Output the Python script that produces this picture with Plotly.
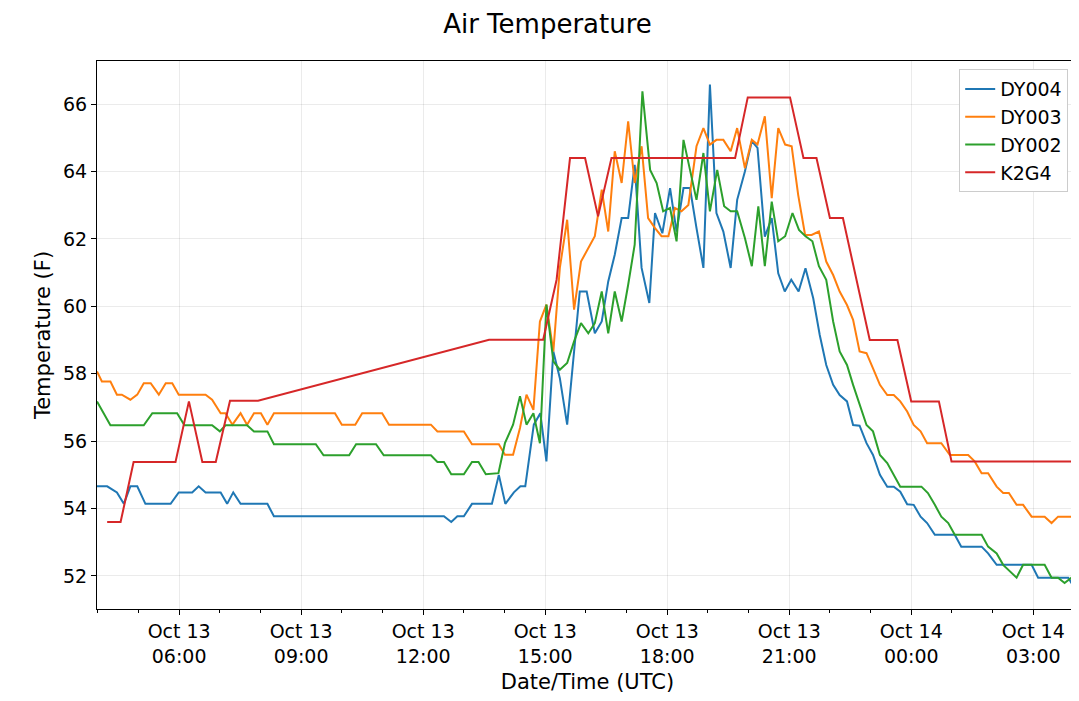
import pandas as pd
import plotly.graph_objects as go

# hours after Oct 13 00:00 UTC, temperature in F
dy004_h = [3.98, 4.23, 4.47, 4.64, 4.80, 4.97, 5.17, 5.79, 5.99, 6.32, 6.48, 6.65, 7.02, 7.18, 7.33, 7.51,
           8.17, 8.33, 12.51, 12.69, 12.84, 13.00, 13.20, 13.69, 13.86, 14.02, 14.23, 14.39, 14.51, 14.72,
           14.88, 15.03, 15.20, 15.36, 15.54, 15.85, 16.02, 16.22, 16.39, 16.55, 16.71, 16.88, 17.04, 17.20,
           17.37, 17.56, 17.70, 17.88, 18.07, 18.23, 18.40, 18.56, 18.72, 18.89, 19.05, 19.21, 19.38, 19.56,
           19.72, 19.91, 20.08, 20.22, 20.40, 20.57, 20.73, 20.89, 21.05, 21.23, 21.40, 21.59, 21.75, 21.91,
           22.08, 22.24, 22.42, 22.57, 22.73, 22.90, 23.06, 23.23, 23.41, 23.57, 23.73, 23.90, 24.06, 24.23,
           24.39, 24.58, 25.07, 25.23, 25.73, 25.89, 26.10, 26.96, 27.12, 27.86, 27.94, 28.10]
dy004_v = [54.66, 54.66, 54.48, 54.14, 54.66, 54.66, 54.14, 54.14, 54.48, 54.48, 54.66, 54.48, 54.48, 54.14, 54.48, 54.14,
           54.14, 53.77, 53.77, 53.60, 53.77, 53.77, 54.14, 54.14, 55.00, 54.14, 54.48, 54.66, 54.66, 56.49,
           56.83, 55.40, 58.66, 57.87, 56.49, 60.44, 60.44, 59.20, 59.55, 60.74, 61.53, 62.62, 62.62, 64.20,
           61.14, 60.10, 62.77, 62.17, 63.51, 62.22, 63.51, 63.51, 62.32, 61.14, 66.58, 62.77, 62.22, 61.14,
           63.16, 64.00, 64.90, 64.70, 62.07, 62.62, 60.98, 60.44, 60.79, 60.44, 61.13, 60.24, 59.15, 58.26,
           57.67, 57.37, 57.18, 56.48, 56.46, 55.94, 55.59, 55.00, 54.65, 54.65, 54.50, 54.13, 54.11, 53.76,
           53.57, 53.22, 53.22, 52.87, 52.87, 52.67, 52.33, 52.33, 51.95, 51.95, 51.79, 51.79]

dy003_h = [3.98, 4.10, 4.31, 4.47, 4.59, 4.80, 4.97, 5.13, 5.30, 5.50, 5.67, 5.83, 5.99, 6.65, 6.81, 7.02,
           7.14, 7.31, 7.51, 7.67, 7.84, 8.01, 8.17, 8.33, 9.83, 10.00, 10.33, 10.50, 10.99, 11.16,
           12.19, 12.35, 13.00, 13.20, 13.86, 14.01, 14.21, 14.38, 14.54, 14.71, 14.87, 15.03, 15.20, 15.36,
           15.54, 15.71, 15.88, 16.06, 16.22, 16.39, 16.55, 16.71, 16.88, 17.04, 17.20, 17.37, 17.53, 17.70,
           17.86, 18.03, 18.19, 18.35, 18.52, 18.72, 18.89, 19.05, 19.21, 19.38, 19.56, 19.72, 19.91, 20.08,
           20.22, 20.40, 20.57, 20.73, 20.90, 21.06, 21.22, 21.39, 21.55, 21.73, 21.91, 22.08, 22.24, 22.42,
           22.57, 22.73, 22.90, 23.06, 23.23, 23.41, 23.57, 23.73, 23.90, 24.06, 24.23, 24.39, 24.74, 24.95,
           25.40, 25.56, 25.73, 25.89, 26.10, 26.26, 26.40, 26.59, 26.75, 26.96, 27.28, 27.45, 27.61, 27.94, 28.10]
dy003_v = [58.07, 57.77, 57.77, 57.38, 57.38, 57.23, 57.38, 57.72, 57.72, 57.38, 57.72, 57.72, 57.38, 57.38, 57.23, 56.83,
           56.83, 56.49, 56.83, 56.49, 56.83, 56.83, 56.49, 56.83, 56.83, 56.49, 56.49, 56.83, 56.83, 56.49,
           56.49, 56.29, 56.29, 55.91, 55.91, 55.60, 55.60, 56.39, 57.38, 56.93, 59.55, 60.05, 58.66, 61.14,
           62.57, 59.90, 61.33, 61.73, 62.08, 63.46, 62.22, 64.60, 63.66, 65.49, 63.66, 64.75, 62.62, 62.32,
           62.08, 62.08, 62.92, 62.82, 63.01, 64.75, 65.29, 64.80, 64.94, 64.94, 64.60, 65.29, 64.10, 64.94,
           64.80, 65.64, 63.21, 65.29, 64.80, 64.75, 63.31, 62.12, 62.12, 62.22, 61.33, 60.93, 60.44, 60.04,
           59.60, 58.66, 58.61, 58.16, 57.67, 57.37, 57.37, 57.18, 56.88, 56.48, 56.29, 55.94, 55.94, 55.59,
           55.59, 55.40, 55.05, 55.05, 54.65, 54.46, 54.46, 54.11, 54.11, 53.76, 53.76, 53.57, 53.76, 53.76, 53.57]

dy002_h = [3.98, 4.31, 5.13, 5.34, 5.95, 6.13, 6.81, 7.00, 7.14, 7.67, 7.84, 8.17, 8.33, 9.36, 9.55, 10.18,
           10.35, 10.84, 11.03, 12.19, 12.35, 12.51, 12.69, 13.00, 13.20, 13.36, 13.54, 13.85, 14.01, 14.21,
           14.38, 14.54, 14.71, 14.87, 15.03, 15.20, 15.36, 15.54, 15.71, 15.88, 16.06, 16.22, 16.39, 16.55,
           16.71, 16.88, 17.04, 17.20, 17.39, 17.58, 17.74, 17.90, 18.07, 18.23, 18.40, 18.56, 18.72, 18.89,
           19.05, 19.23, 19.40, 19.56, 19.72, 19.91, 20.08, 20.24, 20.40, 20.57, 20.73, 20.90, 21.08, 21.24,
           21.40, 21.57, 21.73, 21.91, 22.08, 22.24, 22.42, 22.57, 22.73, 22.90, 23.06, 23.23, 23.41, 23.57,
           23.73, 24.25, 24.41, 24.58, 24.74, 24.91, 25.07, 25.73, 25.89, 26.10, 26.26, 26.59, 26.75, 27.28,
           27.45, 27.61, 27.77, 27.94, 28.10]
dy002_v = [57.18, 56.47, 56.47, 56.83, 56.83, 56.47, 56.47, 56.29, 56.47, 56.47, 56.29, 56.29, 55.91, 55.91, 55.58, 55.58,
           55.91, 55.91, 55.58, 55.58, 55.38, 55.38, 55.02, 55.02, 55.38, 55.38, 55.02, 55.05, 55.94, 56.49,
           57.33, 56.49, 56.83, 55.94, 60.05, 58.37, 58.12, 58.32, 58.96, 59.50, 59.20, 59.50, 60.44, 59.20,
           60.44, 59.55, 60.64, 61.83, 66.38, 64.05, 63.66, 62.82, 62.92, 61.93, 64.94, 64.10, 63.16, 64.55,
           62.82, 64.05, 62.97, 62.82, 62.82, 62.03, 61.19, 62.97, 61.19, 63.11, 61.93, 62.08, 62.77, 62.27,
           62.08, 61.93, 61.19, 60.79, 59.55, 58.66, 58.26, 57.67, 57.08, 56.48, 56.29, 55.59, 55.35, 55.00,
           54.65, 54.65, 54.46, 54.11, 53.76, 53.57, 53.22, 53.22, 52.87, 52.67, 52.33, 51.95, 52.33, 52.33,
           51.95, 51.95, 51.79, 51.95, 51.95]

k2g4_h = [4.23, 4.56, 4.88, 5.91, 6.24, 6.57, 6.90, 7.25, 7.94, 13.62, 14.95, 15.28, 15.61, 15.98, 16.30,
          16.63, 19.67, 19.98, 21.02, 21.35, 21.67, 22.00, 22.32, 22.98, 23.66, 24.00, 24.68, 24.99, 28.02]
k2g4_v = [53.60, 53.60, 55.38, 55.38, 57.18, 55.38, 55.38, 57.20, 57.20, 59.01, 59.01, 60.79, 64.40, 64.40, 62.67,
          64.40, 64.40, 66.20, 66.20, 64.40, 64.40, 62.62, 62.62, 59.00, 59.00, 57.18, 57.18, 55.40, 55.40]

tick_hours = [6, 9, 12, 15, 18, 21, 24, 27]
tick_text = ["Oct 13<br>06:00", "Oct 13<br>09:00", "Oct 13<br>12:00", "Oct 13<br>15:00",
             "Oct 13<br>18:00", "Oct 13<br>21:00", "Oct 14<br>00:00", "Oct 14<br>03:00"]

base = pd.Timestamp("2019-10-13")
def to_time(hours):
    return [base + pd.Timedelta(hours=h) for h in hours]

series = [("DY004", dy004_h, dy004_v, "#1f77b4"),
          ("DY003", dy003_h, dy003_v, "#ff7f0e"),
          ("DY002", dy002_h, dy002_v, "#2ca02c"),
          ("K2G4", k2g4_h, k2g4_v, "#d62728")]

fig = go.Figure()
for name, hrs, vals, color in series:
    fig.add_trace(go.Scatter(x=to_time(hrs), y=vals, mode="lines", name=name,
                             line=dict(color=color, width=2)))

axis_style = dict(showline=True, linecolor="black", linewidth=1, mirror=True, automargin=False,
                  gridcolor="rgba(0,0,0,0.08)", ticks="outside", tickcolor="black",
                  zeroline=False, tickfont=dict(size=19, color="black"))

fig.update_layout(
    width=1079, height=701,
    margin=dict(l=89, r=9, t=53, b=100),
    paper_bgcolor="white", plot_bgcolor="white",
    font=dict(family="DejaVu Sans", color="black"),
    title=dict(text="Air Temperature", x=0.5, xanchor="center", y=0.99, yanchor="top",
               font=dict(size=26)),
    legend=dict(x=0.99, y=0.985, xanchor="right", yanchor="top", bgcolor="white",
                bordercolor="#cccccc", borderwidth=1, font=dict(size=19)),
    xaxis=dict(axis_style, range=to_time([3.98, 28.1]), tickvals=to_time(tick_hours),
               ticktext=tick_text, title=dict(text="Date/Time (UTC)", font=dict(size=21), standoff=8),
               minor=dict(dtick=3600000, ticks="outside", ticklen=3, tickcolor="black", showgrid=False)),
    yaxis=dict(axis_style, range=[51.02, 67.28], tickvals=[52, 54, 56, 58, 60, 62, 64, 66],
               title=dict(text="Temperature (F)", font=dict(size=21), standoff=6)),
)

fig.write_html("out.html")
